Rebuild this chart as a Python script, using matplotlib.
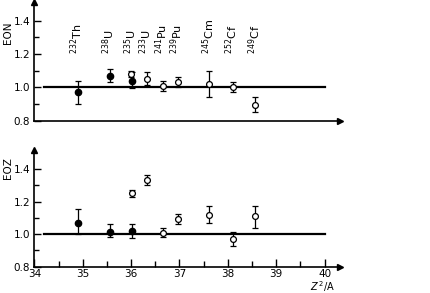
import numpy as np
import matplotlib
matplotlib.use("Agg")
import matplotlib.pyplot as plt

# nuclide labels and their Z^2/A
nuclides = [r'$^{232}$Th', r'$^{238}$U', r'$^{235}$U', r'$^{233}$U', r'$^{241}$Pu',
            r'$^{239}$Pu', r'$^{245}$Cm', r'$^{252}$Cf', r'$^{249}$Cf']
label_x = [34.90, 35.56, 36.02, 36.33, 36.66, 36.97, 37.62, 38.11, 38.57]

# EON, filled points
eon_f_x = [34.90, 35.56, 36.02]
eon_f_y = [0.97, 1.07, 1.04]
eon_f_lo = [0.07, 0.04, 0.045]
eon_f_hi = [0.07, 0.04, 0.05]
# EON, open points
eon_o_x = [35.99, 36.33, 36.66, 36.97, 37.62, 38.11, 38.57]
eon_o_y = [1.08, 1.05, 1.01, 1.03, 1.02, 1.005, 0.895]
eon_o_lo = [0.02, 0.035, 0.03, 0.03, 0.08, 0.03, 0.04]
eon_o_hi = [0.02, 0.04, 0.03, 0.03, 0.08, 0.03, 0.05]

# EOZ, filled points
eoz_f_x = [34.90, 35.56, 36.02]
eoz_f_y = [1.07, 1.015, 1.02]
eoz_f_lo = [0.07, 0.035, 0.045]
eoz_f_hi = [0.085, 0.045, 0.045]
# EOZ, open points
eoz_o_x = [36.02, 36.33, 36.66, 36.97, 37.62, 38.11, 38.57]
eoz_o_y = [1.25, 1.33, 1.005, 1.09, 1.12, 0.97, 1.11]
eoz_o_lo = [0.02, 0.03, 0.02, 0.03, 0.05, 0.045, 0.07]
eoz_o_hi = [0.02, 0.035, 0.035, 0.035, 0.055, 0.04, 0.065]

plt.rcParams['font.family'] = 'DejaVu Sans'
fig = plt.figure(figsize=(4.31, 2.93), dpi=100)
ax1 = fig.add_axes([0.0798, 0.588, 0.709, 0.4035])
ax2 = fig.add_axes([0.0798, 0.0898, 0.709, 0.398])

xmin, xmax = 34.0, 40.32


def setup(ax, ytop):
    ax.set_xlim(xmin, xmax)
    ax.set_ylim(0.8, ytop)
    for s in ['top', 'right']:
        ax.spines[s].set_visible(False)
    for s in ['left', 'bottom']:
        ax.spines[s].set_linewidth(1.2)
    ax.set_yticks([0.8, 1.0, 1.2, 1.4])
    ax.set_yticklabels(['0.8', '1.0', '1.2', '1.4'])
    ax.set_yticks([0.9, 1.1, 1.3], minor=True)
    ax.tick_params(axis='y', which='major', direction='in', length=5, width=1, labelsize=7.5, pad=3)
    ax.tick_params(axis='y', which='minor', direction='in', length=3.5, width=1)
    # arrow heads
    ax.plot([xmin], [ytop], marker='^', color='black', ms=5, clip_on=False)
    ax.plot([xmax], [0.8], marker='>', color='black', ms=5, clip_on=False)
    ax.plot([34.2, 40.0], [1.0, 1.0], color='black', lw=1.6, zorder=1)


def points(ax, fx, fy, flo, fhi, ox, oy, olo, ohi):
    ax.errorbar(fx, fy, yerr=[flo, fhi], fmt='o', color='black', ms=4.5,
                capsize=2.2, elinewidth=0.9, capthick=0.9, zorder=3)
    ax.errorbar(ox, oy, yerr=[olo, ohi], fmt='o', color='black', mfc='white',
                mec='black', mew=0.9, ms=4.2, capsize=2.2, elinewidth=0.9,
                capthick=0.9, zorder=3)


setup(ax1, 1.51)
ax1.set_xticks([])
points(ax1, eon_f_x, eon_f_y, eon_f_lo, eon_f_hi, eon_o_x, eon_o_y, eon_o_lo, eon_o_hi)
for lx, name in zip(label_x, nuclides):
    ax1.text(lx - 0.02, 1.2, name, rotation=90, ha='center', va='bottom', fontsize=8)
ax1.text(-0.085, 0.74, 'EON', transform=ax1.transAxes, rotation=90,
         ha='center', va='center', fontsize=7.5)

setup(ax2, 1.516)
ax2.set_xticks([34, 35, 36, 37, 38, 39, 40])
ax2.set_xticks(np.arange(34.5, 40, 1.0), minor=True)
ax2.tick_params(axis='x', which='major', direction='in', length=6, width=1, labelsize=7.5, pad=2)
ax2.tick_params(axis='x', which='minor', direction='in', length=4, width=1)
points(ax2, eoz_f_x, eoz_f_y, eoz_f_lo, eoz_f_hi, eoz_o_x, eoz_o_y, eoz_o_lo, eoz_o_hi)
ax2.text(-0.085, 0.85, 'EOZ', transform=ax2.transAxes, rotation=90,
         ha='center', va='center', fontsize=7.5)
fig.text(323 / 431, 1 - 287 / 293, r'$Z^{\,2}$/A', ha='center', va='center', fontsize=7)

fig.savefig('out.png', dpi=100)
